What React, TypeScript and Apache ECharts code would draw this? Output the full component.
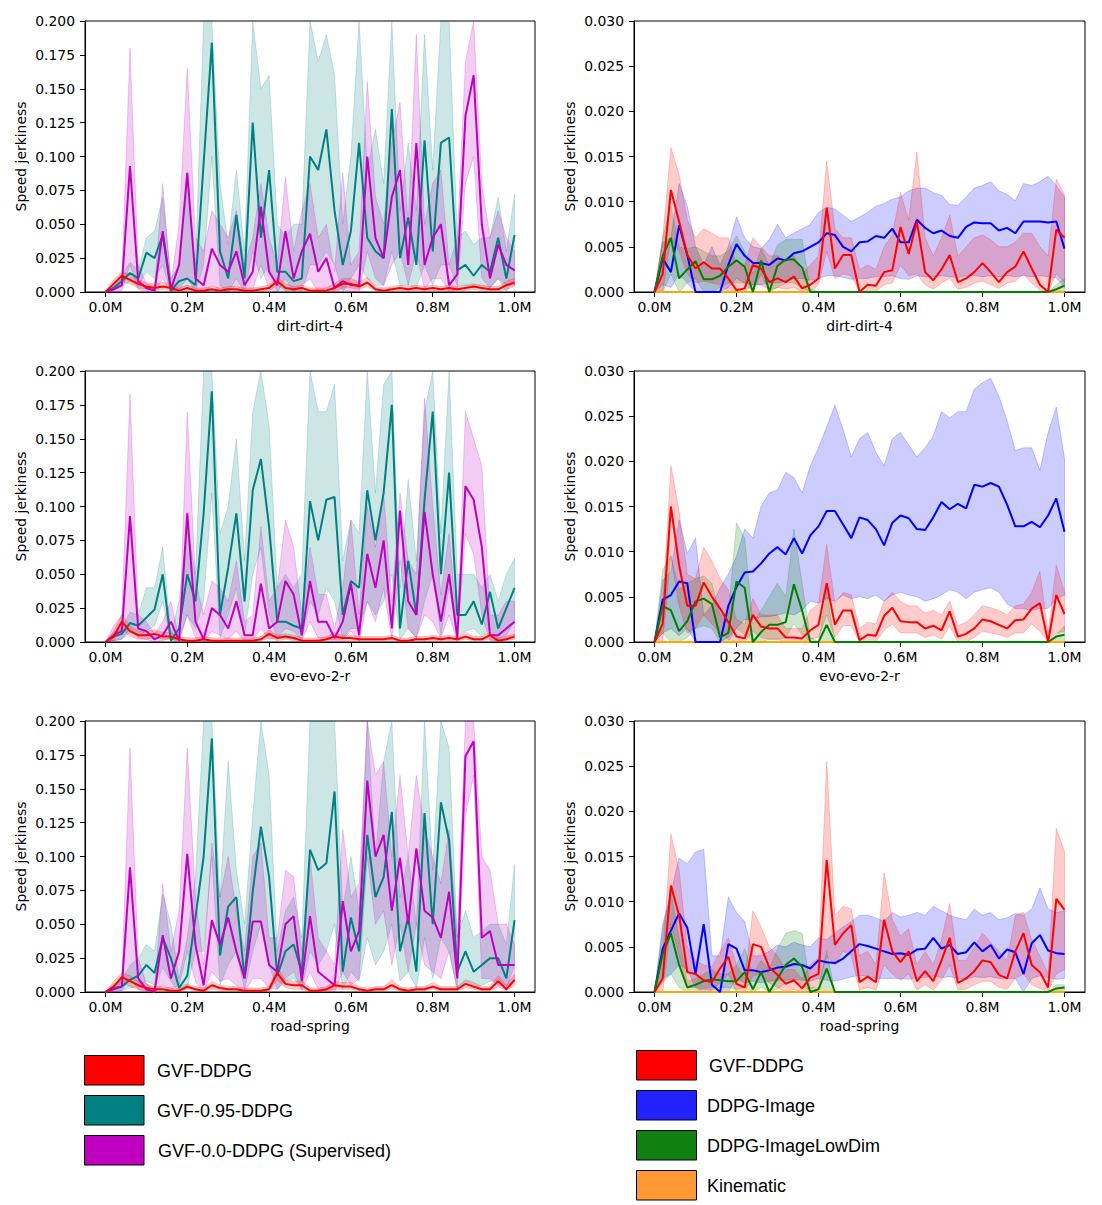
import React, { useEffect, useRef } from "react";
import * as echarts from "echarts";

const X = [0,0.02,0.04,0.06,0.08,0.1,0.12,0.14,0.16,0.18,0.2,0.22,0.24,0.26,0.28,0.3,0.32,0.34,0.36,0.38,0.4,0.42,0.44,0.46,0.48,0.5,0.52,0.54,0.56,0.58,0.6,0.62,0.64,0.66,0.68,0.7,0.72,0.74,0.76,0.78,0.8,0.82,0.84,0.86,0.88,0.9,0.92,0.94,0.96,0.98,1.0];
const X_TICKS = [0, 0.2, 0.4, 0.6, 0.8, 1.0];
const ENV_NAMES = ["dirt-dirt-4", "evo-evo-2-r", "road-spring"];
const LEFT_LEGEND = ["GVF-DDPG", "GVF-0.95-DDPG", "GVF-0.0-DDPG (Supervised)"];
const RIGHT_LEGEND = ["GVF-DDPG", "DDPG-Image", "DDPG-ImageLowDim", "Kinematic"];

// ---------- dirt-dirt-4, left ----------
const P1_RED = [0,.006,.012,.009,.006,.004,.003,.004,.003,.001, .003,.001,.001,.002,.001,.002,.002,.001,.001,.002, .003,.008,.003,.002,.003,.001,.001,.001,.003,.006, .006,.004,.007,.002,.001,.002,.003,.002,.003,.002, .003,.002,.003,.002,.003,.004,.003,.002,.002,.005, .007];
const P1_RED_HI = [0,.009,.015,.013,.009,.007,.006,.007,.006,.003, .005,.003,.003,.004,.003,.004,.004,.003,.003,.004, .005,.011,.006,.004,.005,.003,.003,.003,.006,.010, .010,.007,.011,.004,.003,.004,.005,.004,.005,.004, .005,.004,.005,.004,.005,.006,.005,.004,.004,.008, .010];
const P1_RED_LO = [0,.003,.008,.006,.003,.002,.001,.002,.001,0, .001,0,0,.001,0,.001,.001,0,0,.001, .001,.005,.001,.001,.001,0,0,0,.001,.003, .003,.002,.004,.001,0,.001,.001,.001,.001,.001, .001,.001,.001,.001,.001,.002,.001,.001,.001,.002, .004];
const P1_TEAL = [0,.003,.008,.014,.010,.029,.025,.042,.001,.008, .010,.005,.095,.184,.030,.010,.057,.010,.125,.040, .090,.015,.015,.008,.010,.100,.090,.120,.060,.020, .045,.110,.040,.030,.025,.135,.025,.055,.020,.112, .030,.110,.114,.016,.020,.012,.020,.015,.040,.010, .042];
const P1_TEAL_HI = [0,.006,.012,.022,.016,.040,.045,.070,.010,.020, .080,.020,.200,.200,.080,.035,.090,.030,.200,.150, .160,.050,.040,.050,.050,.200,.170,.190,.160,.050, .100,.200,.090,.120,.080,.200,.060,.110,.060,.190, .090,.200,.200,.040,.045,.035,.040,.040,.070,.030, .072];
const P1_TEAL_LO = [0,.001,.004,.008,.004,.015,.010,.020,0,.002, .005,0,.020,.100,.005,0,.010,0,.030,.010, .020,0,0,0,0,.020,.020,.030,.020,0, .010,.020,.010,.005,.005,.030,.005,.005,.003,.020, .005,.020,.020,.005,.005,.003,.005,.003,.010,0, .010];
const P1_MAG = [0,.002,.005,.093,.008,.003,.001,.045,.002,.020, .088,.010,.005,.032,.020,.015,.030,.005,.015,.063, .015,.005,.045,.010,.030,.043,.015,.025,.003,.008, .005,.005,.100,.040,.025,.070,.090,.020,.110,.020, .040,.050,.005,.013,.130,.160,.050,.010,.035,.020, .016];
const P1_MAG_HI = [0,.004,.010,.180,.020,.006,.004,.080,.006,.050, .165,.040,.030,.060,.050,.040,.060,.020,.040,.080, .040,.020,.085,.030,.060,.080,.040,.050,.015,.088, .020,.030,.155,.070,.050,.110,.140,.050,.190,.050, .080,.090,.020,.040,.170,.200,.080,.040,.060,.040, .030];
const P1_MAG_LO = [0,0,.001,.020,.002,0,0,.010,0,.002, .010,0,0,.005,.002,0,.005,0,.002,.020, .002,0,.010,0,.005,.010,0,.003,0,.002, 0,0,.030,.010,.005,.020,.030,.005,.030,.002, .010,.010,0,.002,.080,.100,.010,.003,.010,.005, .005];

// ---------- evo-evo-2-r, left ----------
const P3_RED = [0,.004,.015,.008,.005,.005,.006,.004,.004,.002, .001,.001,.002,.001,.001,.001,.001,.001,.001,.002, .006,.003,.004,.003,.001,.001,.001,.002,.004,.003, .003,.002,.002,.002,.002,.003,.001,.001,.002,.002, .003,.002,.003,.002,.004,.002,.002,.005,.001,.002, .004];
const P3_RED_HI = [0,.008,.020,.012,.008,.008,.009,.007,.007,.004, .003,.003,.004,.003,.003,.003,.003,.003,.003,.004, .009,.005,.006,.005,.003,.003,.003,.004,.007,.005, .005,.004,.004,.004,.004,.005,.003,.003,.004,.004, .005,.004,.005,.004,.007,.004,.004,.008,.003,.004, .006];
const P3_RED_LO = [0,.001,.010,.004,.002,.002,.003,.002,.002,.001, 0,0,.001,0,0,0,0,0,0,.001, .003,.001,.002,.001,0,0,0,.001,.002,.001, .001,.001,.001,.001,.001,.001,0,0,.001,.001, .001,.001,.001,.001,.002,.001,.001,.002,0,.001, .002];
const P3_TEAL = [0,.004,.006,.014,.012,.018,.024,.050,.001,.010, .050,.030,.095,.185,.020,.055,.095,.030,.112,.135, .085,.015,.015,.012,.010,.104,.075,.105,.107,.020, .045,.040,.112,.075,.110,.175,.010,.060,.020,.105, .170,.050,.125,.020,.020,.030,.013,.037,.010,.025, .040];
const P3_TEAL_HI = [0,.007,.010,.022,.020,.040,.040,.070,.005,.030, .085,.050,.200,.200,.080,.100,.150,.060,.170,.200, .160,.040,.050,.040,.050,.200,.170,.170,.190,.060, .090,.080,.200,.110,.190,.200,.040,.120,.060,.170, .200,.080,.200,.050,.050,.050,.040,.050,.030,.050, .062];
const P3_TEAL_LO = [0,.001,.002,.007,.005,.008,.012,.030,0,.002, .020,.010,.030,.110,.003,.020,.040,.005,.050,.070, .020,.003,.003,.002,.002,.030,.020,.040,.030,.003, .010,.010,.030,.020,.030,.050,.002,.010,.003,.030, .050,.005,.040,.005,.008,.010,.004,.010,.002,.005, .015];
const P3_MAG = [0,.005,.008,.093,.010,.008,.002,.005,.015,.001, .095,.015,.002,.025,.020,.010,.030,.005,.005,.043, .010,.015,.045,.035,.005,.045,.015,.015,.003,.015, .043,.005,.065,.040,.075,.010,.097,.030,.020,.096, .050,.015,.050,.003,.115,.105,.070,.005,.005,.010, .015];
const P3_MAG_HI = [0,.012,.020,.183,.020,.015,.006,.015,.030,.003, .170,.045,.020,.045,.040,.030,.060,.015,.020,.085, .030,.040,.090,.070,.020,.070,.035,.035,.010,.040, .090,.020,.100,.070,.110,.030,.110,.060,.050,.180, .100,.035,.080,.010,.170,.150,.130,.020,.020,.030, .030];
const P3_MAG_LO = [0,.001,.002,.010,.003,.002,0,.001,.003,0, .020,.003,0,.008,.005,.002,.008,0,.001,.010, .002,.003,.010,.008,.001,.015,.003,.003,0,.002, .008,0,.030,.015,.040,.002,.060,.010,.003,.020, .015,.003,.020,0,.080,.065,.020,.001,.001,.003, .005];

// ---------- road-spring, left ----------
const P5_RED = [0,.004,.011,.008,.005,.003,.002,.002,.001,.001, .004,.002,.001,.005,.003,.002,.002,.001,.001,.001, .002,.014,.006,.005,.005,.001,.001,.002,.005,.004, .004,.002,.001,.002,.002,.005,.002,.001,.002,.002, .004,.002,.002,.002,.006,.004,.002,.002,.008,.002, .009];
const P5_RED_HI = [0,.008,.014,.012,.008,.006,.004,.004,.003,.003, .006,.004,.003,.008,.005,.004,.004,.003,.003,.003, .004,.018,.009,.008,.008,.003,.003,.004,.008,.007, .007,.004,.003,.004,.004,.009,.004,.003,.004,.004, .007,.004,.004,.004,.009,.007,.004,.004,.012,.005, .013];
const P5_RED_LO = [0,.001,.007,.004,.002,.001,.001,.001,0,0, .002,.001,0,.002,.001,.001,.001,0,0,0, .001,.009,.003,.002,.002,0,0,.001,.002,.002, .002,.001,0,.001,.001,.002,.001,0,.001,.001, .002,.001,.001,.001,.003,.002,.001,.001,.004,.001, .005];
const P5_TEAL = [0,.003,.004,.009,.012,.020,.014,.040,.025,.003, .012,.055,.100,.187,.027,.063,.070,.010,.074,.122, .085,.012,.030,.035,.015,.105,.090,.095,.148,.015, .055,.030,.116,.070,.085,.133,.030,.055,.015,.132, .050,.140,.112,.015,.030,.015,.020,.025,.025,.010, .053];
const P5_TEAL_HI = [0,.006,.008,.020,.025,.035,.030,.072,.050,.010, .040,.085,.200,.200,.070,.170,.090,.050,.130,.200, .160,.030,.060,.070,.040,.200,.200,.200,.200,.060, .100,.060,.200,.100,.170,.200,.070,.100,.050,.200, .090,.200,.180,.040,.060,.040,.045,.050,.050,.035, .094];
const P5_TEAL_LO = [0,0,.001,.003,.004,.008,.005,.018,.008,0, .003,.030,.030,.100,.005,.020,.030,.002,.030,.050, .020,.002,.008,.010,.003,.030,.020,.030,.050,.002, .015,.008,.040,.020,.030,.050,.008,.015,.003,.040, .010,.040,.030,.003,.008,.003,.005,.008,.008,.002, .020];
const P5_MAG = [0,.002,.004,.092,.010,.002,0,.042,.010,.030, .102,.035,.005,.053,.035,.055,.030,.010,.052,.052, .020,.015,.050,.056,.008,.056,.015,.010,.005,.067, .030,.045,.156,.100,.116,.060,.099,.050,.106,.060, .055,.040,.074,.010,.174,.185,.040,.045,.020,.020, .020];
const P5_MAG_HI = [0,.004,.010,.180,.025,.006,.002,.080,.030,.060, .180,.070,.020,.110,.070,.100,.060,.030,.100,.110, .040,.040,.090,.085,.030,.100,.040,.030,.020,.120, .070,.080,.200,.160,.170,.100,.160,.100,.160,.120, .100,.080,.120,.040,.200,.200,.100,.090,.050,.050, .035];
const P5_MAG_LO = [0,0,.001,.010,.002,0,0,.005,.002,.005, .030,.008,0,.015,.008,.010,.005,0,.010,.010, .003,.002,.010,.015,.001,.015,.002,.001,0,.015, .005,.010,.100,.050,.060,.020,.050,.015,.050,.020, .015,.010,.030,.001,.130,.160,.010,.010,.005,.005, .008];

// ---------- dirt-dirt-4, right ----------
const P2_BLUE = [0,.0037,.0022,.0074,.0041,0,0,0,0,.003, .0053,.004,.0032,.0032,.003,.0037,.0035,.0043,.0045,.005, .0055,.0065,.0063,.005,.0045,.0055,.0056,.0062,.006,.007, .0055,.0055,.008,.0071,.0065,.0068,.0062,.006,.0072,.0077, .0076,.0076,.0068,.0071,.0065,.0078,.0078,.0078,.0077,.0078, .0048];
const P2_BLUE_HI = [0,.0055,.006,.012,.0095,.005,.003,.005,.003,.005, .0083,.006,.005,.0048,.0058,.0075,.006,.0065,.007,.0075, .0088,.0094,.0092,.0085,.0078,.0083,.0088,.0095,.0098,.0103, .0105,.0112,.0115,.0115,.011,.0107,.0097,.0096,.0105,.0115, .0118,.0122,.0112,.0108,.0101,.012,.0118,.0122,.0128,.0118, .0105];
const P2_BLUE_LO = [0,.0008,.0005,.002,.001,0,0,0,0,.0005, .0015,.001,.0008,.0008,.001,.001,.0012,.0015,.0015,.0013, .0015,.0018,.0018,.0016,.0014,.0015,.0015,.0017,.0017,.0018, .0015,.0014,.0018,.0017,.0017,.0018,.0017,.0016,.0018,.0018, .0017,.0018,.0017,.0018,.0017,.0018,.0017,.0018,.0017,.0016, .0005];
const P2_RED = [0,.002,.0113,.0078,.0041,.0026,.0033,.0026,.0026,.0015, .0002,.0004,.003,.0026,.0011,.0015,.0011,.0017,.0004,.0008, .0015,.0093,.0026,.0041,.0041,0,.0008,.0007,.0022,.0024, .0072,.0042,.0078,.0022,.0013,.0025,.0041,.0011,.0015,.0022, .0032,.0022,.0011,.0022,.0028,.0045,.0026,.0008,0,.0069, .006];
const P2_RED_HI = [0,.006,.016,.013,.008,.006,.007,.0065,.006,.006, .003,.003,.006,.005,.004,.004,.0035,.004,.002,.003, .004,.0145,.007,.006,.006,.0025,.003,.0025,.005,.0063, .011,.008,.0155,.006,.004,.006,.0085,.004,.005,.006, .0063,.0058,.005,.005,.0055,.0065,.0065,.005,.004,.0125, .0108];
const P2_RED_LO = [0,0,.006,.0045,.002,.001,.0012,.001,.0008,0, 0,0,.0008,.0008,.0002,.0005,.0003,.0005,0,0, .0008,.0045,.0015,.002,.0018,0,0,0,.0008,.001, .003,.0018,.002,.0008,.0003,.001,.0015,.0003,.0005,.001, .0012,.0008,.0004,.001,.0012,.002,.001,.0002,0,.002, .001];
const P2_GREEN = [0,.004,.006,.0015,.0025,.0034,.0014,.0014,.0018,.0028, .0035,.0028,0,.0035,0,.0029,.0036,.0036,.0027,0, 0,0,0,0,0,0,0,0,0,0, 0,0,0,0,0,0,0,0,0,0, 0,0,0,0,0,0,0,0,0,.0003, .0007];
const P2_GREEN_HI = [0,.006,.0095,.005,.0048,.005,.0045,.004,.004,.0045, .0062,.0045,.002,.0048,.003,.0052,.0058,.0058,.0058,.0003, 0,0,0,0,0,0,0,0,0,0, 0,0,0,0,0,0,0,0,0,0, 0,0,0,0,0,0,0,0,0,.0008, .0015];
const P2_GREEN_LO = [0,0,.002,0,.001,.0015,0,0,.0005,.001, .001,.001,0,.002,0,.0005,.001,.001,.0005,0, 0,0,0,0,0,0,0,0,0,0, 0,0,0,0,0,0,0,0,0,0, 0,0,0,0,0,0,0,0,0,0, 0];

// ---------- evo-evo-2-r, right ----------
const P4_BLUE = [0,.0047,.0052,.0067,.0065,0,0,0,0,.004, .0061,.0077,.0078,.0087,.0098,.0105,.0097,.0115,.0098,.0118, .0128,.0145,.0145,.013,.0115,.0138,.0135,.0125,.0107,.0132, .014,.0137,.0125,.0124,.0138,.0155,.0147,.0153,.0148,.0174, .0172,.0176,.0172,.0152,.0128,.0128,.0133,.0127,.014,.0159, .0122];
const P4_BLUE_HI = [0,.0068,.0078,.0135,.0098,.0115,.003,.004,.006,.0075, .0095,.0125,.0115,.015,.0165,.0168,.0188,.0182,.0165,.0195, .0215,.0238,.0262,.0235,.0205,.0225,.0232,.021,.0195,.0225, .0232,.0218,.0205,.0215,.0228,.0255,.0248,.0255,.0255,.028, .0287,.0292,.0272,.0245,.0212,.0215,.0215,.019,.0232,.026, .0203];
const P4_BLUE_LO = [0,.001,.0015,.0007,.0015,0,0,0,0,.0005, .0015,.0025,.0025,.0028,.0028,.003,.0032,.003,.0035,.0045, .0043,.0048,.0045,.0052,.0048,.005,.0048,.0052,.0045,.0052, .0055,.0052,.005,.0045,.0048,.0052,.0058,.0055,.0048,.0055, .0058,.006,.0055,.0042,.0037,.0037,.0035,.0037,.0037,.0048, .0052];
const P4_RED = [0,.002,.015,.0085,.004,.004,.0066,.005,.0037,.0022, .0006,.0004,.003,.0017,.0015,.0015,.0005,.0005,.0004,.0013, .0019,.0065,.0019,.0035,.0035,.0002,.0008,.0007,.0029,.0038, .0023,.0022,.0022,.0015,.0018,.0013,.0034,.0006,.0009,.0015, .0025,.0023,.0019,.0015,.0024,.0025,.0037,.0043,0,.0052, .0031];
const P4_RED_HI = [0,.004,.0195,.0145,.0075,.007,.0105,.009,.007,.0058, .0025,.002,.0048,.003,.003,.003,.0015,.0015,.0015,.0035, .0042,.0108,.0043,.0055,.0052,.0015,.0022,.002,.0045,.0055, .0045,.004,.004,.0032,.0035,.003,.0045,.0018,.0022,.003, .004,.0038,.0035,.003,.004,.0042,.0055,.0078,.001,.0085, .0055];
const P4_RED_LO = [0,0,.0095,.004,.001,.0015,.003,.002,.001,.0003, 0,0,.0012,.0005,.0003,.0003,0,0,0,.0003, .0005,.003,.0005,.0018,.0018,0,0,0,.0013,.002, .001,.001,.001,.0005,.0008,.0003,.0018,0,0,.0005, .0012,.001,.0008,.0005,.001,.001,.002,.0012,0,.001, .0012];
const P4_GREEN = [0,.004,.0035,.0012,.0023,.0045,.0048,.0042,.0005,.001, .0067,.006,0,.0011,.0019,.0019,.0022,.0064,.0035,0, 0,.0019,0,0,0,0,0,0,0,0, 0,0,0,0,0,0,0,0,0,0, 0,0,0,0,0,0,0,0,0,.0006, .0008];
const P4_GREEN_HI = [0,.008,.0095,.0058,.0065,.007,.0073,.0065,.003,.003, .0132,.0115,.002,.0035,.005,.0065,.005,.0125,.0065,.0005, 0,.0055,0,0,0,0,0,0,0,0, 0,0,0,0,0,0,0,0,0,0, 0,0,0,0,0,0,0,0,0,.0008, .0018];
const P4_GREEN_LO = [0,.001,0,0,.0005,.0015,.0018,.0015,0,0, .0015,.0008,0,0,.0003,.0003,.0005,.002,.0008,0, 0,0,0,0,0,0,0,0,0,0, 0,0,0,0,0,0,0,0,0,0, 0,0,0,0,0,0,0,0,0,0, 0];

// ---------- road-spring, right ----------
const P6_BLUE = [0,.0048,.0068,.0087,.0071,.002,.0075,.0008,0,.0053, .0048,.0024,.0024,.0022,.0024,.0027,.0028,.0031,.003,.0026, .0035,.0033,.0032,.0037,.0045,.0053,.0051,.0048,.0045,.0042, .0043,.0041,.0047,.0048,.006,.0048,.0052,.0042,.0044,.0055, .0045,.0052,.0037,.0047,.0044,.002,.0054,.0063,.0046,.0043, .0042];
const P6_BLUE_HI = [0,.0075,.011,.0148,.0142,.0155,.0158,.004,.004,.0105, .0088,.0078,.004,.004,.0045,.0052,.005,.0055,.0052,.005, .006,.0058,.0065,.0072,.0078,.0085,.0085,.0082,.0078,.0088, .0083,.0085,.0088,.0085,.0095,.009,.0085,.0082,.008,.0092, .0085,.0088,.008,.0082,.0087,.0085,.0092,.0115,.0092,.0088, .009];
const P6_BLUE_LO = [0,.0015,.002,.003,.0025,.0005,0,0,0,0, .0015,.001,.0012,.001,.0012,.0013,.0013,.0014,.0013,.0012, .0015,.0013,.0012,.0014,.0017,.0018,.0018,.0015,.0015,.0015, .0015,.0014,.0016,.0016,.0018,.0016,.0017,.0015,.0014,.0017, .0016,.0017,.0015,.0015,.0015,0,.0015,.0018,.0016,.0014, .0015];
const P6_RED = [0,.0015,.0118,.0085,.0022,.002,.0013,.0011,.0026,.0039, .0009,.0005,.0053,.005,.0027,.0019,.0009,.0013,.0004,.0016, .002,.0146,.0052,.0065,.0074,.0011,.0017,.0011,.008,.0045, .0033,.0045,.0012,.0023,.0012,.0035,.006,.001,.0015,.0023, .0035,.0033,.0019,.0015,.0045,.0065,.003,.0022,.0005,.0103, .0091];
const P6_RED_HI = [0,.004,.0175,.0135,.005,.0035,.003,.0028,.0045,.006, .003,.0015,.009,.0072,.005,.004,.0025,.0025,.0015,.003, .0038,.0255,.0085,.0095,.0092,.004,.0045,.003,.0132,.008, .0062,.007,.003,.0045,.003,.0058,.0098,.0035,.0035,.005, .0065,.0055,.0045,.0035,.0085,.0088,.0058,.004,.002,.0181, .0155];
const P6_RED_LO = [0,0,.0075,.004,.0005,.0005,.0003,.0002,.001,.002, 0,0,.0018,.002,.001,.0005,0,.0003,0,.0003, .0008,.004,.003,.0045,.004,.0002,.0005,.0002,.003,.002, .0013,.002,.0002,.0008,.0002,.0013,.003,.0002,.0003,.0008, .0012,.0012,.0005,.0003,.0015,.002,.0008,.0004,0,.002, .0025];
const P6_GREEN = [0,.0042,.0065,.003,.0005,.0008,.0012,.0014,.0013,.0012, .0012,.0022,.0003,.0022,0,.0015,.003,.0037,.0028,0, .0003,.0026,0,0,0,0,0,0,0,0, 0,0,0,0,0,0,0,0,0,0, 0,0,0,0,0,0,0,0,0,.0004, .0005];
const P6_GREEN_HI = [0,.007,.011,.006,.0012,.0015,.002,.0025,.002,.002, .003,.0048,.002,.0035,.0025,.0048,.0065,.0068,.0065,.0005, .0005,.0045,0,0,0,0,0,0,0,0, 0,0,0,0,0,0,0,0,0,0, 0,0,0,0,0,0,0,0,0,.0008, .0008];
const P6_GREEN_LO = [0,.001,.002,.0005,0,0,.0004,.0005,.0005,.0005, .0003,.0005,0,.0005,0,.0003,.001,.0012,.0008,0, 0,0,0,0,0,0,0,0,0,0, 0,0,0,0,0,0,0,0,0,0, 0,0,0,0,0,0,0,0,0,.0001, .0002];

// Kinematic stays at zero everywhere
const KINEMATIC = [0,0,0,0,0,0,0,0,0,0, 0,0,0,0,0,0,0,0,0,0, 0,0,0,0,0,0,0,0,0,0, 0,0,0,0,0,0,0,0,0,0, 0,0,0,0,0,0,0,0,0,0, 0];

const C = {
  red: "#ff0000",
  teal: "#008080",
  mag: "#bf00bf",
  blue: "#0000ff",
  green: "#008000",
  orange: "#ffa500",
};
const BAND = {
  red: "rgba(255,0,0,0.2)",
  teal: "rgba(0,128,128,0.2)",
  mag: "rgba(191,0,191,0.2)",
  blue: "rgba(0,0,255,0.2)",
  green: "rgba(0,128,0,0.2)",
};

type Ser = { mean: number[]; hi?: number[]; lo?: number[]; key: keyof typeof C };

const LEFT_PANELS: Ser[][] = [
  [
    { mean: P1_TEAL, hi: P1_TEAL_HI, lo: P1_TEAL_LO, key: "teal" },
    { mean: P1_MAG, hi: P1_MAG_HI, lo: P1_MAG_LO, key: "mag" },
    { mean: P1_RED, hi: P1_RED_HI, lo: P1_RED_LO, key: "red" },
  ],
  [
    { mean: P3_TEAL, hi: P3_TEAL_HI, lo: P3_TEAL_LO, key: "teal" },
    { mean: P3_MAG, hi: P3_MAG_HI, lo: P3_MAG_LO, key: "mag" },
    { mean: P3_RED, hi: P3_RED_HI, lo: P3_RED_LO, key: "red" },
  ],
  [
    { mean: P5_TEAL, hi: P5_TEAL_HI, lo: P5_TEAL_LO, key: "teal" },
    { mean: P5_MAG, hi: P5_MAG_HI, lo: P5_MAG_LO, key: "mag" },
    { mean: P5_RED, hi: P5_RED_HI, lo: P5_RED_LO, key: "red" },
  ],
];
const RIGHT_PANELS: Ser[][] = [
  [
    { mean: KINEMATIC, key: "orange" },
    { mean: P2_BLUE, hi: P2_BLUE_HI, lo: P2_BLUE_LO, key: "blue" },
    { mean: P2_GREEN, hi: P2_GREEN_HI, lo: P2_GREEN_LO, key: "green" },
    { mean: P2_RED, hi: P2_RED_HI, lo: P2_RED_LO, key: "red" },
  ],
  [
    { mean: KINEMATIC, key: "orange" },
    { mean: P4_BLUE, hi: P4_BLUE_HI, lo: P4_BLUE_LO, key: "blue" },
    { mean: P4_GREEN, hi: P4_GREEN_HI, lo: P4_GREEN_LO, key: "green" },
    { mean: P4_RED, hi: P4_RED_HI, lo: P4_RED_LO, key: "red" },
  ],
  [
    { mean: KINEMATIC, key: "orange" },
    { mean: P6_BLUE, hi: P6_BLUE_HI, lo: P6_BLUE_LO, key: "blue" },
    { mean: P6_GREEN, hi: P6_GREEN_HI, lo: P6_GREEN_LO, key: "green" },
    { mean: P6_RED, hi: P6_RED_HI, lo: P6_RED_LO, key: "red" },
  ],
];

const FONT = "DejaVu Sans";
const FS = 13.9;

function buildOption() {
  const grids: any[] = [];
  const xAxes: any[] = [];
  const yAxes: any[] = [];
  const series: any[] = [];
  const tops = [21, 371, 721];

  for (let row = 0; row < 3; row++) {
    for (let col = 0; col < 2; col++) {
      const gi = grids.length;
      const isLeft = col === 0;
      const ymax = isLeft ? 0.2 : 0.03;
      grids.push({
        left: isLeft ? 85 : 634,
        top: tops[row],
        width: isLeft ? 450 : 451,
        height: 271,
        show: true,
        borderColor: "#000",
        borderWidth: 1,
        backgroundColor: "transparent",
      });
      xAxes.push({
        type: "value",
        gridIndex: gi,
        min: -0.05,
        max: 1.05,
        name: ENV_NAMES[row],
        nameLocation: "middle",
        nameGap: 27,
        nameTextStyle: { fontSize: FS, color: "#000", fontFamily: FONT },
        axisLine: { show: true, onZero: false, lineStyle: { color: "#000", width: 1 } },
        axisTick: { show: true, length: 5, customValues: X_TICKS, lineStyle: { color: "#000" } },
        axisLabel: {
          customValues: X_TICKS,
          formatter: (v: number) => v.toFixed(1) + "M",
          margin: 8,
          fontSize: FS,
          color: "#000",
          fontFamily: FONT,
        },
        splitLine: { show: false },
      });
      yAxes.push({
        type: "value",
        gridIndex: gi,
        min: 0,
        max: ymax,
        interval: isLeft ? 0.025 : 0.005,
        name: "Speed jerkiness",
        nameLocation: "middle",
        nameGap: 57,
        nameRotate: 90,
        nameTextStyle: { fontSize: FS, color: "#000", fontFamily: FONT },
        axisLine: { show: true, onZero: false, lineStyle: { color: "#000", width: 1 } },
        axisTick: { show: true, length: 5, lineStyle: { color: "#000" } },
        axisLabel: {
          formatter: (v: number) => v.toFixed(3),
          margin: 10,
          fontSize: FS,
          color: "#000",
          fontFamily: FONT,
        },
        splitLine: { show: false },
      });

      const list = isLeft ? LEFT_PANELS[row] : RIGHT_PANELS[row];
      list.forEach((s) => {
        if (!s.hi || !s.lo) return;
        const hi = s.hi;
        const lo = s.lo;
        const fill = (BAND as any)[s.key];
        series.push({
          type: "custom",
          xAxisIndex: gi,
          yAxisIndex: gi,
          data: [[0, 0]],
          silent: true,
          z: 1,
          renderItem: (_p: any, api: any) => {
            const pts: number[][] = [];
            for (let i = 0; i < X.length; i++) pts.push(api.coord([X[i], Math.min(hi[i], ymax)]));
            for (let i = X.length - 1; i >= 0; i--) pts.push(api.coord([X[i], Math.min(lo[i], ymax)]));
            return {
              type: "polygon",
              shape: { points: pts },
              style: { fill, stroke: fill, lineWidth: 1 },
              silent: true,
            };
          },
        });
      });
      list.forEach((s) => {
        series.push({
          type: "line",
          xAxisIndex: gi,
          yAxisIndex: gi,
          data: X.map((x, i) => [x, s.mean[i]]),
          symbol: "none",
          showSymbol: false,
          silent: true,
          z: 3,
          lineStyle: { color: C[s.key], width: 2 },
          itemStyle: { color: C[s.key] },
        });
      });
    }
  }

  const graphic: any[] = [];
  const leftColors = ["#ff0000", "#008080", "#c000c0"];
  const leftTops = [1055, 1095, 1135];
  LEFT_LEGEND.forEach((label, i) => {
    graphic.push({
      type: "rect",
      shape: { x: 84.5, y: leftTops[i] + 0.5, width: 59.5, height: 29.5 },
      style: { fill: leftColors[i], stroke: "#000", lineWidth: 1 },
    });
    graphic.push({
      type: "text",
      x: i === 2 ? 158 : 157,
      y: leftTops[i] + 15.5,
      style: { text: label, fontSize: 18, fontFamily: "Liberation Sans", fill: "#000", verticalAlign: "middle" },
    });
  });
  const rightColors = ["#ff0000", "#2222ff", "#108010", "#ff9933"];
  const rightTops = [1050, 1090, 1130, 1170];
  RIGHT_LEGEND.forEach((label, i) => {
    graphic.push({
      type: "rect",
      shape: { x: 636.5, y: rightTops[i] + 0.5, width: 60, height: 29.5 },
      style: { fill: rightColors[i], stroke: "#000", lineWidth: 1 },
    });
    graphic.push({
      type: "text",
      x: i === 0 ? 709 : 707,
      y: rightTops[i] + 16,
      style: { text: label, fontSize: 18, fontFamily: "Liberation Sans", fill: "#000", verticalAlign: "middle" },
    });
  });

  return {
    animation: false,
    backgroundColor: "#fff",
    textStyle: { fontFamily: FONT },
    grid: grids,
    xAxis: xAxes,
    yAxis: yAxes,
    series,
    graphic,
  };
}

export default function App() {
  const ref = useRef<HTMLDivElement>(null);
  useEffect(() => {
    document.body.style.margin = "0";
    const chart = echarts.init(ref.current as HTMLDivElement, null, { renderer: "svg" });
    chart.setOption(buildOption() as any);
    return () => chart.dispose();
  }, []);
  return <div ref={ref} style={{ width: 1102, height: 1205 }} />;
}
